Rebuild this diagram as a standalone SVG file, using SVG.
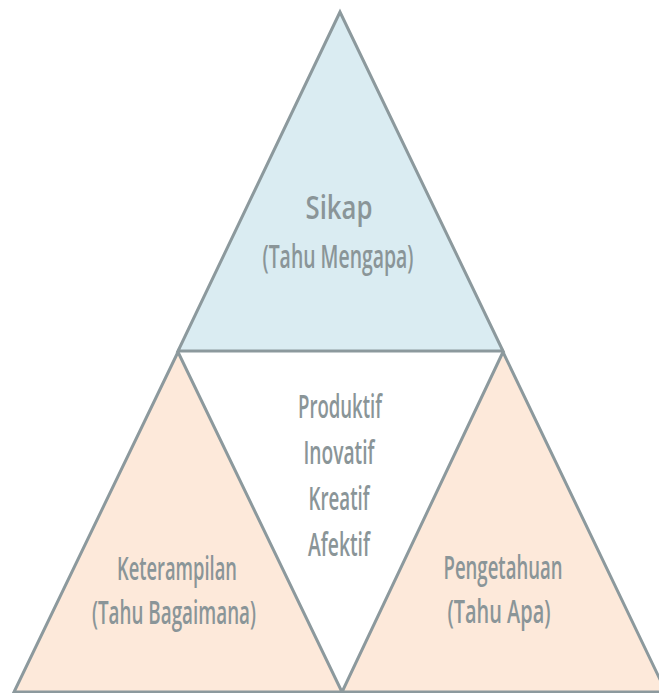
<svg xmlns="http://www.w3.org/2000/svg" width="659" height="693" viewBox="0 0 659 693">
<style>
.tri{stroke:#8c999d;stroke-width:3;stroke-linejoin:miter}
.blue{fill:#daecf2}
.peach{fill:#fde9da}
text{font-family:"Open Sans","Liberation Sans",sans-serif;font-size:32px;font-weight:600;fill:#8a9598;text-anchor:middle}
</style>
<rect width="659" height="693" fill="#ffffff"/>
<g id="connectors"></g>
<g id="sikap">
<polygon class="tri blue" points="340,12 178,351 503,351"/>
<text x="339" y="219" textLength="67" lengthAdjust="spacingAndGlyphs">Sikap</text>
<text x="338" y="268" textLength="151" lengthAdjust="spacingAndGlyphs">(Tahu Mengapa)</text>
</g>
<g id="keterampilan">
<polygon class="tri peach" points="178,352 14,692 342,692"/>
<text x="177" y="580" textLength="120" lengthAdjust="spacingAndGlyphs">Keterampilan</text>
<text x="174" y="624" textLength="164" lengthAdjust="spacingAndGlyphs">(Tahu Bagaimana)</text>
</g>
<g id="pengetahuan">
<polygon class="tri peach" points="503,352 342,692 666,692"/>
<text x="503" y="579" textLength="119" lengthAdjust="spacingAndGlyphs">Pengetahuan</text>
<text x="499" y="623" textLength="103" lengthAdjust="spacingAndGlyphs">(Tahu Apa)</text>
</g>
<g id="center">
<text x="340" y="418" textLength="84" lengthAdjust="spacingAndGlyphs">Produktif</text>
<text x="339" y="464" textLength="71" lengthAdjust="spacingAndGlyphs">Inovatif</text>
<text x="339" y="510" textLength="61" lengthAdjust="spacingAndGlyphs">Kreatif</text>
<text x="339" y="556" textLength="62" lengthAdjust="spacingAndGlyphs">Afektif</text>
</g>
</svg>
